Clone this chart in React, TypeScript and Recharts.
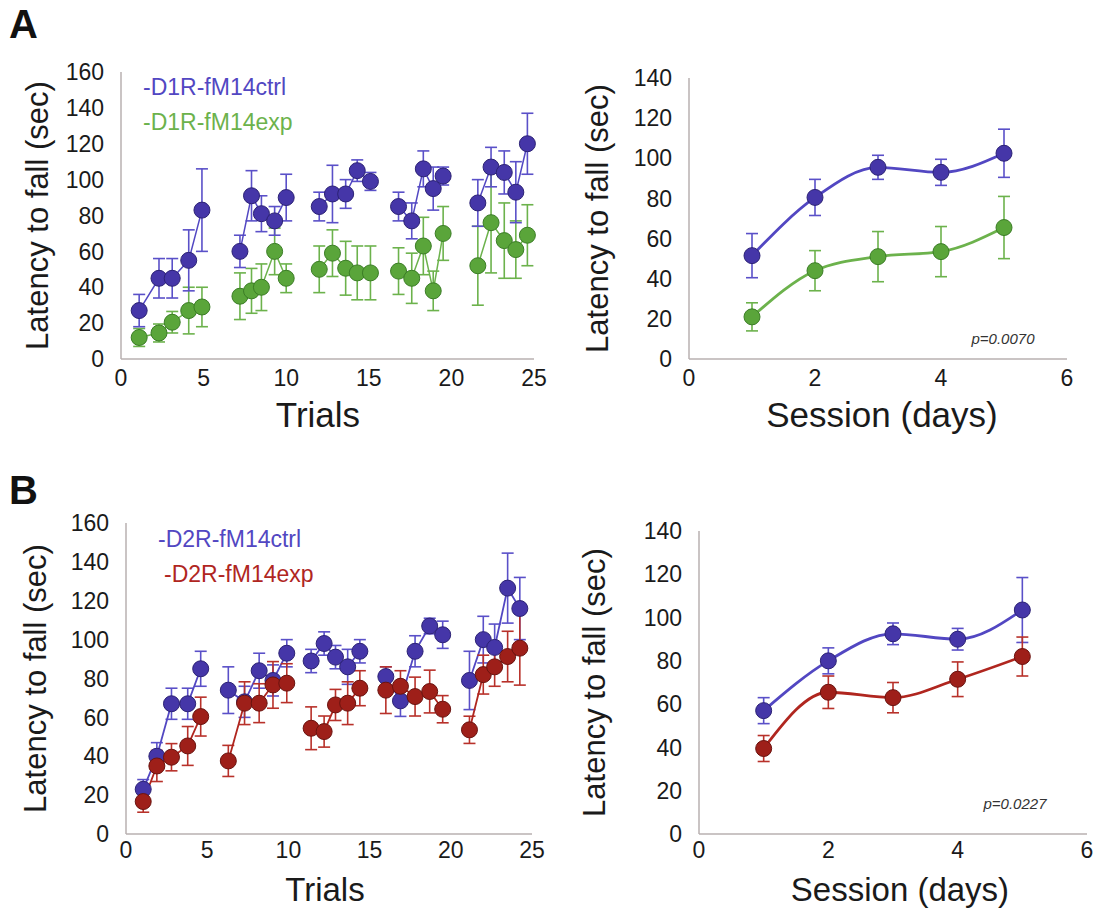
import React from 'react';
import { LineChart, Line, XAxis, YAxis, ErrorBar } from 'recharts';

const FONT = '"Liberation Sans", Arial, sans-serif';

// ---- panel A: D1R, per trial ----
const trialsA = [1.1, 2.3, 3.1, 4.1, 4.9, 7.2, 7.9, 8.5, 9.3, 10.0, 12.0, 12.8, 13.6, 14.3, 15.1, 16.8, 17.6, 18.3, 18.9, 19.5, 21.6, 22.4, 23.2, 23.9, 24.6];
const d1CtrlTrials = [27, 45, 45, 55, 83, 60, 91, 81, 77, 90, 85, 92, 92, 105, 99, 85, 77, 106, 95, 102, 87, 107, 104, 93, 120];
const d1CtrlTrialsErr = [9, 11, 11, 17, 23, 9, 14, 10, 8, 13, 8, 16, 8, 6, 5, 8, 10, 10, 12, 5, 13, 11, 12, 17, 17];
const d1ExpTrials = [12, 14.5, 20.5, 27, 29, 35, 38, 40, 60, 45, 50, 59, 50.6, 48, 48, 49, 45, 63, 38, 70, 52, 76, 66, 61, 69];
const d1ExpTrialsErr = [5, 5, 6, 13, 11, 13, 12.5, 13, 13, 8, 13, 13, 15, 15, 15, 13, 14, 16, 11, 15, 22, 28, 21, 16, 17];

// ---- panel B: D2R, per trial ----
const trialsB = [1.06, 1.9, 2.8, 3.8, 4.6, 6.3, 7.3, 8.2, 9.05, 9.9, 11.4, 12.2, 12.9, 13.65, 14.4, 16.0, 16.9, 17.8, 18.7, 19.5, 21.15, 22.0, 22.7, 23.5, 24.25];
const d2CtrlTrials = [23, 40, 67, 67, 85, 74, 68, 84, 79, 93, 89, 98, 91, 86, 94, 81, 68.5, 94, 107, 102.5, 79, 100, 96, 126.5, 116];
const d2CtrlTrialsErr = [5, 7, 8, 8, 9, 12, 8, 9, 8, 7, 6, 6, 6, 9, 6, 5, 8, 8, 4, 7, 15, 12, 12, 18, 16];
const d2ExpTrials = [16.7, 35, 39.5, 45.3, 60.4, 37.6, 67.3, 67.3, 76.7, 77.6, 54.4, 52.7, 66.4, 67.3, 75, 74, 76, 70.7, 73.3, 64.2, 53.6, 82, 86, 91.3, 95.6];
const d2ExpTrialsErr = [5.5, 8, 7, 10, 10, 8, 11, 10, 12, 10, 11, 8, 8, 11, 9, 12, 8, 10, 11, 7, 7, 10, 10, 13, 19];

// ---- per session (days) ----
const sessions = [1, 2, 3, 4, 5];
const d1CtrlDays = [51.5, 80.5, 95.5, 93, 102.5];
const d1CtrlDaysErr = [11, 9, 6, 6.5, 12];
const d1ExpDays = [21, 44, 51, 53.5, 65.5];
const d1ExpDaysErr = [7, 10, 12.5, 12.5, 15.5];
const d2CtrlDays = [57, 80, 92.5, 90, 103.5];
const d2CtrlDaysErr = [6, 6, 5, 5, 15];
const d2ExpDays = [39.5, 65.5, 63, 71.5, 82];
const d2ExpDaysErr = [6, 7.5, 7, 8, 9];

const trialTicks = [0, 5, 10, 15, 20, 25];
const dayTicks = [0, 2, 4, 6];
const trialYTicks = [0, 20, 40, 60, 80, 100, 120, 140, 160];
const dayYTicks = [0, 20, 40, 60, 80, 100, 120, 140];

const BLUE = { line: '#5247c2', fill: '#4536a8', dark: '#2c2275', err: '#5a50c8' };
const GREEN = { line: '#6cb24c', fill: '#5aa53a', dark: '#3b7d26', err: '#6cb24c' };
const RED = { line: '#b0261f', fill: '#9e1f19', dark: '#6a130f', err: '#b8312a' };

type Row = { x: number; y: number; e: number };

function rows(x: number[], y: number[], e: number[]): Row[] {
  return x.map((v, i) => ({ x: v, y: y[i], e: e[i] }));
}

function chunk(r: Row[], n: number): Row[][] {
  const out: Row[][] = [];
  for (let i = 0; i < r.length; i += n) out.push(r.slice(i, i + n));
  return out;
}

const AxisTitle = (p: any) => (
  <text
    x={p.tx}
    y={p.ty}
    transform={p.rot ? `rotate(-90 ${p.tx} ${p.ty})` : undefined}
    textAnchor="middle"
    dominantBaseline="central"
    fontFamily={FONT}
    fontSize={p.size}
    fill="#1a1a1a"
  >
    {p.text}
  </text>
);

type Series = { color: typeof BLUE; groups: Row[][] };

function Panel(props: {
  left: number; top: number; width: number; height: number;
  plot: { l: number; r: number; t: number; b: number };
  xDomain: [number, number]; xTicks: number[];
  yDomain: [number, number]; yTicks: number[];
  series: Series[]; xTitle: string; xTitleX: number; xTitleY: number; xTitleSize: number; yTitleX: number;
  tickGap: number;
  smooth?: boolean; lineWidth: number;
  legend?: { text: string; color: string; indent: number }[];
  legendPos?: { x: number; y: number };
  pval?: { text: string; x: number; y: number };
}) {
  const { left, top, width, height, plot } = props;
  const xAxisH = 70;
  const margin = {
    top: plot.t - top,
    left: 0,
    right: left + width - plot.r,
    bottom: top + height - plot.b - xAxisH,
  };
  const yW = plot.l - left;
  const tick = { fontSize: 23, fill: '#1a1a1a', fontFamily: FONT };
  return (
    <div style={{ position: 'absolute', left, top, width, height }}>
      <LineChart width={width} height={height} margin={margin}>
        <XAxis
          type="number"
          dataKey="x"
          domain={props.xDomain}
          ticks={props.xTicks}
          tickLine={false}
          tickSize={0}
          tickMargin={props.tickGap}
          stroke="#b9b1b1"
          strokeWidth={1.5}
          tick={tick}
          height={xAxisH}
          label={<AxisTitle tx={props.xTitleX - left} ty={props.xTitleY - top} size={props.xTitleSize} text={props.xTitle} />}
        />
        <YAxis
          type="number"
          domain={props.yDomain}
          ticks={props.yTicks}
          tickLine={false}
          tickSize={0}
          tickMargin={17}
          stroke="#b9b1b1"
          strokeWidth={1.5}
          tick={tick}
          width={yW}
          label={<AxisTitle tx={props.yTitleX - left} ty={(plot.t + plot.b) / 2 - top} size={31} rot text="Latency to fall (sec)" />}
        />
        {props.series.flatMap((s, si) =>
          s.groups.map((g, gi) => (
            <Line
              key={`${si}-${gi}`}
              data={g}
              dataKey="y"
              type={props.smooth ? 'monotone' : 'linear'}
              stroke={s.color.line}
              strokeWidth={props.lineWidth}
              dot={{ r: 8, fill: s.color.fill, stroke: s.color.dark, strokeWidth: 1 }}
              activeDot={false}
              legendType="none"
              isAnimationActive={false}
            >
              <ErrorBar dataKey="e" direction="y" width={6} stroke={s.color.err} strokeWidth={1.6} isAnimationActive={false} />
            </Line>
          ))
        )}
      </LineChart>
      {props.legend && props.legendPos && (
        <div style={{ position: 'absolute', left: props.legendPos.x - left, top: props.legendPos.y - top, fontFamily: FONT, fontSize: 23, lineHeight: '35px' }}>
          {props.legend.map((l) => (
            <div key={l.text} style={{ color: l.color, paddingLeft: l.indent, whiteSpace: 'nowrap' }}>{l.text}</div>
          ))}
        </div>
      )}
      {props.pval && (
        <div style={{ position: 'absolute', left: props.pval.x - left, top: props.pval.y - top, transform: 'translate(-50%, -50%)', fontFamily: FONT, fontSize: 15, fontStyle: 'italic', color: '#333', whiteSpace: 'nowrap' }}>
          {props.pval.text}
        </div>
      )}
    </div>
  );
}

const letterStyle: React.CSSProperties = { position: 'absolute', fontFamily: FONT, fontWeight: 'bold', fontSize: 40, lineHeight: '40px', color: '#111' };

export default function App() {
  const d1Ctrl = chunk(rows(trialsA, d1CtrlTrials, d1CtrlTrialsErr), 5);
  const d1Exp = chunk(rows(trialsA, d1ExpTrials, d1ExpTrialsErr), 5);
  const d2Ctrl = chunk(rows(trialsB, d2CtrlTrials, d2CtrlTrialsErr), 5);
  const d2Exp = chunk(rows(trialsB, d2ExpTrials, d2ExpTrialsErr), 5);
  const d1CtrlD = [rows(sessions, d1CtrlDays, d1CtrlDaysErr)];
  const d1ExpD = [rows(sessions, d1ExpDays, d1ExpDaysErr)];
  const d2CtrlD = [rows(sessions, d2CtrlDays, d2CtrlDaysErr)];
  const d2ExpD = [rows(sessions, d2ExpDays, d2ExpDaysErr)];

  return (
    <div style={{ position: 'absolute', left: 0, top: 0, width: 1099, height: 911, background: '#fff', overflow: 'hidden' }}>
      <div style={{ ...letterStyle, left: 9, top: 4 }}>A</div>
      <div style={{ ...letterStyle, left: 9, top: 470 }}>B</div>

      <Panel
        left={0} top={0} width={560} height={450}
        plot={{ l: 121, r: 534, t: 72, b: 359 }}
        xDomain={[0, 25]} xTicks={trialTicks} yDomain={[0, 160]} yTicks={trialYTicks}
        series={[{ color: GREEN, groups: d1Exp }, { color: BLUE, groups: d1Ctrl }]}
        xTitle="Trials" xTitleX={318} xTitleY={414} xTitleSize={35} yTitleX={37} tickGap={11}
        lineWidth={1.5}
        legend={[
          { text: '-D1R-fM14ctrl', color: BLUE.line, indent: 0 },
          { text: '-D1R-fM14exp', color: GREEN.line, indent: 0 },
        ]}
        legendPos={{ x: 143, y: 70 }}
      />

      <Panel
        left={560} top={0} width={539} height={450}
        plot={{ l: 689, r: 1067, t: 78, b: 359 }}
        xDomain={[0, 6]} xTicks={dayTicks} yDomain={[0, 140]} yTicks={dayYTicks}
        series={[{ color: GREEN, groups: d1ExpD }, { color: BLUE, groups: d1CtrlD }]}
        xTitle="Session  (days)" xTitleX={882} xTitleY={414} xTitleSize={35} yTitleX={597} tickGap={11}
        smooth lineWidth={2.8}
        pval={{ text: 'p=0.0070', x: 1003, y: 338 }}
      />

      <Panel
        left={0} top={455} width={560} height={456}
        plot={{ l: 126, r: 532, t: 523, b: 834 }}
        xDomain={[0, 25]} xTicks={trialTicks} yDomain={[0, 160]} yTicks={trialYTicks}
        series={[{ color: BLUE, groups: d2Ctrl }, { color: RED, groups: d2Exp }]}
        xTitle="Trials" xTitleX={325} xTitleY={889} xTitleSize={33} yTitleX={35} tickGap={8}
        lineWidth={1.8}
        legend={[
          { text: '-D2R-fM14ctrl', color: BLUE.line, indent: 0 },
          { text: '-D2R-fM14exp', color: RED.line, indent: 6 },
        ]}
        legendPos={{ x: 158, y: 522 }}
      />

      <Panel
        left={560} top={455} width={539} height={456}
        plot={{ l: 699, r: 1087, t: 531, b: 834 }}
        xDomain={[0, 6]} xTicks={dayTicks} yDomain={[0, 140]} yTicks={dayYTicks}
        series={[{ color: BLUE, groups: d2CtrlD }, { color: RED, groups: d2ExpD }]}
        xTitle="Session  (days)" xTitleX={900} xTitleY={889} xTitleSize={33} yTitleX={594} tickGap={8}
        smooth lineWidth={2.8}
        pval={{ text: 'p=0.0227', x: 1015, y: 803 }}
      />
    </div>
  );
}
